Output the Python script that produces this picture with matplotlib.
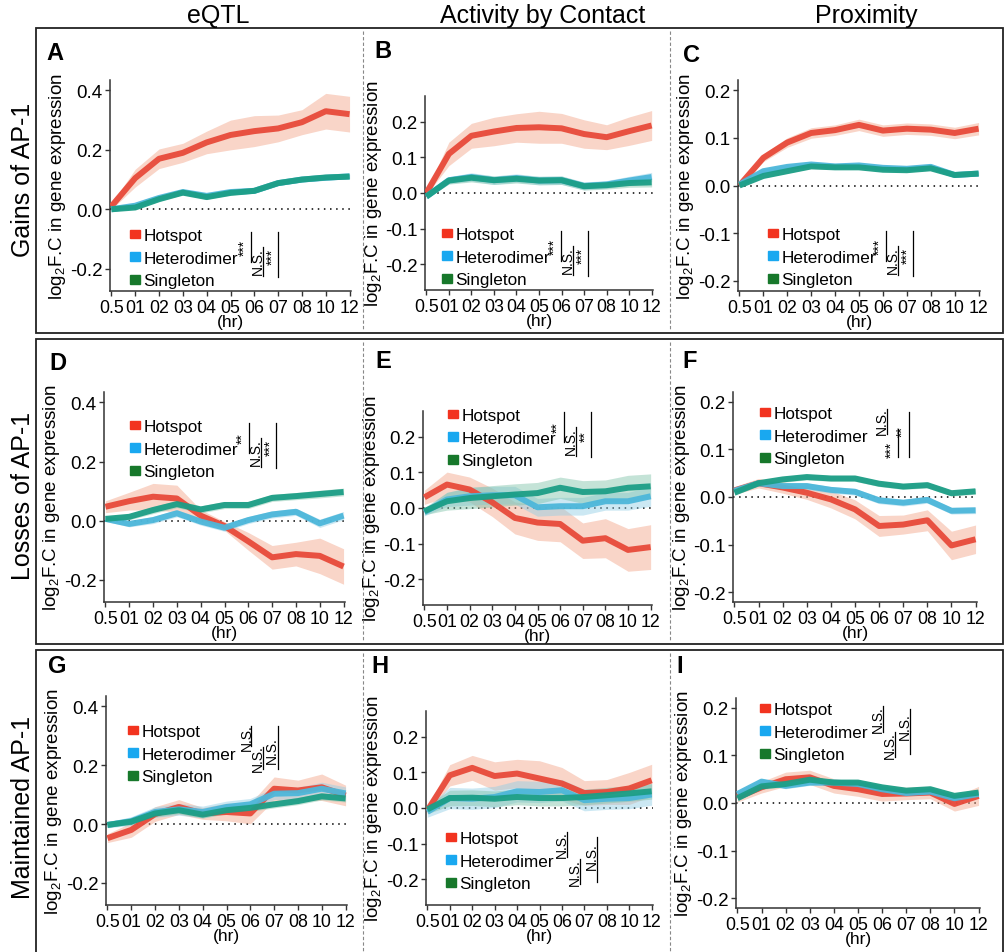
import numpy as np
import matplotlib
matplotlib.use("Agg")
import matplotlib.pyplot as plt
from matplotlib.patches import Patch, Rectangle
from matplotlib.lines import Line2D

plt.rcParams['font.family'] = ['Liberation Sans', 'DejaVu Sans']
plt.rcParams['mathtext.fontset'] = 'custom'
plt.rcParams['mathtext.rm'] = 'Liberation Sans'

W, H = 1006, 953

hours = ['0.5', '01', '02', '03', '04', '05', '06', '07', '08', '10', '12']
groups = ['Hotspot', 'Heterodimer', 'Singleton']
col_titles = ['eQTL', 'Activity by Contact', 'Proximity']
row_titles = ['Gains of AP-1', 'Losses of AP-1', 'Maintained AP-1']

# --- A: gains / eQTL
hot_A = [0.01, 0.105, 0.17, 0.19, 0.225, 0.25, 0.263, 0.272, 0.293, 0.33, 0.32]
hot_A_se = [0.01, 0.03, 0.033, 0.032, 0.038, 0.05, 0.052, 0.045, 0.042, 0.06, 0.06]
het_A = [0.0, 0.012, 0.038, 0.058, 0.045, 0.058, 0.062, 0.088, 0.1, 0.106, 0.111]
het_A_se = [0.005, 0.007, 0.008, 0.008, 0.008, 0.008, 0.008, 0.008, 0.008, 0.008, 0.008]
sin_A = [0.0, 0.006, 0.034, 0.056, 0.041, 0.055, 0.062, 0.088, 0.1, 0.107, 0.11]
sin_A_se = [0.005, 0.006, 0.007, 0.007, 0.007, 0.007, 0.007, 0.007, 0.007, 0.007, 0.007]
# --- B: gains / ABC
hot_B = [0.0, 0.11, 0.161, 0.173, 0.183, 0.185, 0.182, 0.166, 0.157, 0.174, 0.19]
hot_B_se = [0.005, 0.033, 0.035, 0.04, 0.04, 0.045, 0.042, 0.04, 0.035, 0.04, 0.042]
het_B = [-0.01, 0.036, 0.045, 0.036, 0.042, 0.035, 0.036, 0.02, 0.024, 0.035, 0.045]
het_B_se = [0.006, 0.01, 0.012, 0.012, 0.012, 0.012, 0.012, 0.011, 0.011, 0.012, 0.013]
sin_B = [-0.01, 0.035, 0.043, 0.036, 0.04, 0.035, 0.036, 0.019, 0.022, 0.028, 0.03]
sin_B_se = [0.006, 0.01, 0.012, 0.012, 0.012, 0.012, 0.012, 0.011, 0.011, 0.012, 0.013]
# --- C: gains / proximity
hot_C = [0.0, 0.058, 0.09, 0.11, 0.116, 0.127, 0.115, 0.119, 0.117, 0.11, 0.119]
hot_C_se = [0.004, 0.008, 0.01, 0.011, 0.011, 0.012, 0.012, 0.012, 0.012, 0.012, 0.013]
het_C = [0.002, 0.03, 0.039, 0.044, 0.04, 0.042, 0.037, 0.035, 0.039, 0.022, 0.025]
het_C_se = [0.003, 0.005, 0.005, 0.005, 0.005, 0.005, 0.005, 0.005, 0.005, 0.005, 0.005]
sin_C = [0.0, 0.02, 0.03, 0.04, 0.038, 0.038, 0.033, 0.032, 0.036, 0.022, 0.025]
sin_C_se = [0.003, 0.004, 0.004, 0.004, 0.004, 0.004, 0.004, 0.004, 0.004, 0.004, 0.004]
# --- D: losses / eQTL
hot_D = [0.047, 0.066, 0.081, 0.075, 0.017, -0.018, -0.07, -0.124, -0.113, -0.119, -0.155]
hot_D_se = [0.02, 0.03, 0.045, 0.045, 0.02, 0.015, 0.03, 0.04, 0.04, 0.06, 0.06]
het_D = [0.006, -0.011, 0.002, 0.025, -0.003, -0.024, 0.002, 0.021, 0.03, -0.009, 0.017]
het_D_se = [0.008, 0.01, 0.012, 0.012, 0.012, 0.012, 0.012, 0.012, 0.012, 0.014, 0.014]
sin_D = [0.006, 0.013, 0.036, 0.056, 0.038, 0.053, 0.053, 0.077, 0.083, 0.09, 0.097]
sin_D_se = [0.008, 0.01, 0.012, 0.012, 0.012, 0.012, 0.012, 0.012, 0.012, 0.013, 0.013]
# --- E: losses / ABC
hot_E = [0.03, 0.066, 0.052, 0.016, -0.028, -0.041, -0.045, -0.092, -0.085, -0.118, -0.11]
hot_E_se = [0.02, 0.035, 0.035, 0.04, 0.045, 0.05, 0.05, 0.05, 0.055, 0.06, 0.063]
het_E = [-0.012, 0.024, 0.033, 0.036, 0.036, 0.002, 0.005, 0.005, 0.019, 0.019, 0.033]
het_E_se = [0.01, 0.02, 0.025, 0.025, 0.025, 0.025, 0.025, 0.025, 0.025, 0.025, 0.028]
sin_E = [-0.009, 0.019, 0.028, 0.033, 0.038, 0.042, 0.057, 0.045, 0.047, 0.057, 0.061]
sin_E_se = [0.01, 0.025, 0.03, 0.03, 0.03, 0.03, 0.03, 0.032, 0.032, 0.035, 0.035]
# --- F: losses / proximity
hot_F = [0.014, 0.029, 0.02, 0.009, -0.005, -0.026, -0.061, -0.058, -0.049, -0.102, -0.089]
hot_F_se = [0.008, 0.01, 0.012, 0.014, 0.018, 0.02, 0.022, 0.02, 0.022, 0.03, 0.03]
het_F = [0.013, 0.029, 0.023, 0.023, 0.015, 0.011, -0.007, -0.012, -0.006, -0.029, -0.028]
het_F_se = [0.005, 0.006, 0.007, 0.007, 0.007, 0.007, 0.007, 0.007, 0.007, 0.007, 0.007]
sin_F = [0.009, 0.029, 0.037, 0.042, 0.039, 0.039, 0.028, 0.022, 0.025, 0.008, 0.012]
sin_F_se = [0.005, 0.006, 0.006, 0.006, 0.006, 0.006, 0.006, 0.006, 0.006, 0.006, 0.006]
# --- G: maintained / eQTL
hot_G = [-0.048, -0.02, 0.034, 0.058, 0.036, 0.041, 0.036, 0.12, 0.114, 0.125, 0.097]
hot_G_se = [0.015, 0.025, 0.025, 0.025, 0.02, 0.03, 0.035, 0.04, 0.035, 0.045, 0.035]
het_G = [-0.003, 0.01, 0.041, 0.05, 0.041, 0.058, 0.067, 0.103, 0.105, 0.12, 0.104]
het_G_se = [0.01, 0.015, 0.018, 0.02, 0.02, 0.02, 0.02, 0.02, 0.02, 0.022, 0.022]
sin_G = [-0.003, 0.008, 0.036, 0.047, 0.032, 0.047, 0.055, 0.067, 0.078, 0.094, 0.087]
sin_G_se = [0.008, 0.01, 0.012, 0.012, 0.012, 0.012, 0.012, 0.012, 0.012, 0.012, 0.012]
# --- H: maintained / ABC
hot_H = [-0.007, 0.092, 0.113, 0.09, 0.097, 0.083, 0.069, 0.042, 0.045, 0.055, 0.078]
hot_H_se = [0.01, 0.03, 0.035, 0.04, 0.04, 0.05, 0.045, 0.035, 0.035, 0.045, 0.045]
het_H = [-0.011, 0.028, 0.026, 0.031, 0.047, 0.045, 0.05, 0.022, 0.026, 0.028, 0.038]
het_H_se = [0.015, 0.03, 0.03, 0.03, 0.03, 0.03, 0.03, 0.03, 0.03, 0.03, 0.03]
sin_H = [-0.004, 0.028, 0.029, 0.026, 0.031, 0.028, 0.028, 0.031, 0.036, 0.041, 0.047]
sin_H_se = [0.012, 0.022, 0.022, 0.022, 0.022, 0.022, 0.022, 0.022, 0.022, 0.022, 0.022]
# --- I: maintained / proximity
hot_I = [0.012, 0.033, 0.05, 0.054, 0.036, 0.029, 0.019, 0.02, 0.022, -0.002, 0.015]
hot_I_se = [0.01, 0.012, 0.015, 0.015, 0.015, 0.015, 0.015, 0.013, 0.013, 0.015, 0.02]
het_I = [0.019, 0.045, 0.036, 0.043, 0.043, 0.04, 0.029, 0.021, 0.024, 0.01, 0.019]
het_I_se = [0.005, 0.006, 0.006, 0.006, 0.006, 0.006, 0.006, 0.006, 0.006, 0.006, 0.006]
sin_I = [0.01, 0.035, 0.04, 0.049, 0.043, 0.043, 0.033, 0.026, 0.029, 0.015, 0.022]
sin_I_se = [0.005, 0.006, 0.006, 0.006, 0.006, 0.006, 0.006, 0.006, 0.006, 0.006, 0.006]

# significance labels (hot vs het, het vs sin, hot vs sin)
sig_A = ['***', 'N.S.', '***']
sig_B = ['***', 'N.S.', '***']
sig_C = ['***', 'N.S.', '***']
sig_D = ['**', 'N.S.', '***']
sig_E = ['**', 'N.S.', '**']
sig_F = ['N.S.', '***', '**']
sig_G = ['N.S.', 'N.S.', 'N.S.']
sig_H = ['N.S.', 'N.S.', 'N.S.']
sig_I = ['N.S.', 'N.S.', 'N.S.']

line_cols = ['#E84A3A', '#4DB7DA', '#1C9E86']
band_cols = ['#F3A285', '#8ECDE6', '#7DC2A8']
key_cols = ['#F2331F', '#19A8F0', '#17782B']


def fx(x):
    return x / W


def fy(y):
    return 1 - y / H


fig = plt.figure(figsize=(W / 100, H / 100), dpi=100)

# row frames and column separators
for top, bot in [(29, 334), (340, 645), (651, 960)]:
    fig.add_artist(Rectangle((fx(36), fy(bot)), fx(1003) - fx(36), fy(top) - fy(bot),
                             transform=fig.transFigure, fill=False, ec='#222222', lw=1.3))
    for xs in [363, 670]:
        fig.add_artist(Line2D([fx(xs), fx(xs)], [fy(top + 3), fy(bot - 3)], transform=fig.transFigure,
                              color='#888888', lw=0.8, ls=(0, (3, 2))))

for t, xc in zip(col_titles, [218, 543, 866]):
    fig.text(fx(xc), fy(16), t, fontsize=18, ha='center', va='center')
for t, yc in zip(row_titles, [180, 496, 807]):
    fig.text(fx(23), fy(yc), t, fontsize=18, rotation=90, ha='center', va='center')

# bracket layout: (dx_text, dy_text, dx_line, dy_line0, dy_line1) per comparison
tpl_std = [(0, 10, 6, -5, 25), (13, 24, 18, 10, 39), (28, 19, 33, -5, 40)]
tpl_F = [(0, 6, 5, -6, 19), (10, 34, 16, 14, 42), (21, 16, 27, -3, 42)]
tpl_G = [(0, 4, 4, -7, 13), (11, 25, 16, 14, 36), (25, 17, 31, -7, 36)]
tpl_H = [(0, 4, 5, -8, 17), (13, 32, 18, 19, 44), (30, 16, 35, -3, 42)]
tpl_I = [(0, 8, 5, -5, 21), (12, 34, 17, 21, 46), (27, 15, 32, -2, 43)]

big = ([-0.275, 0.435], [-0.2, 0.0, 0.2, 0.4], ['-0.2', '0.0', '0.2', '0.4'])
mid = ([-0.273, 0.273], [-0.2, -0.1, 0.0, 0.1, 0.2], ['-0.2', '-0.1', '0.0', '0.1', '0.2'])
sml = ([-0.221, 0.221], [-0.2, -0.1, 0.0, 0.1, 0.2], ['-0.2', '-0.1', '0.0', '0.1', '0.2'])

panels = [
    # letter, (left, right, top, bottom) px, y setup, series, letter pos, legend (key x, row1 y), sig anchor, sig labels, template
    ('A', (110, 351, 81, 292), big, [(hot_A, hot_A_se), (het_A, het_A_se), (sin_A, sin_A_se)], (55, 53), (130, 238), (245, 238), sig_A, tpl_std),
    ('B', (425, 653, 97, 291), mid, [(hot_B, hot_B_se), (het_B, het_B_se), (sin_B, sin_B_se)], (383, 52), (442, 237), (555, 237), sig_B, tpl_std),
    ('C', (738, 980, 81, 292), sml, [(hot_C, hot_C_se), (het_C, het_C_se), (sin_C, sin_C_se)], (692, 55), (768, 237), (880, 237), sig_C, tpl_std),
    ('D', (104, 345, 393, 603), big, [(hot_D, hot_D_se), (het_D, het_D_se), (sin_D, sin_D_se)], (58, 363), (130, 429), (243, 429), sig_D, tpl_std),
    ('E', (423, 652, 412, 606), mid, [(hot_E, hot_E_se), (het_E, het_E_se), (sin_E, sin_E_se)], (383, 362), (448, 418), (558, 418), sig_E, tpl_std),
    ('F', (733, 977, 393, 603), sml, [(hot_F, hot_F_se), (het_F, het_F_se), (sin_F, sin_F_se)], (690, 362), (760, 416), (882, 416), sig_F, tpl_F),
    ('G', (106, 347, 697, 906), big, [(hot_G, hot_G_se), (het_G, het_G_se), (sin_G, sin_G_se)], (57, 667), (128, 734), (247, 734), sig_G, tpl_G),
    ('H', (426, 653, 712, 906), mid, [(hot_H, hot_H_se), (het_H, het_H_se), (sin_H, sin_H_se)], (380, 667), (446, 841), (562, 841), sig_H, tpl_H),
    ('I', (736, 980, 699, 909), sml, [(hot_I, hot_I_se), (het_I, het_I_se), (sin_I, sin_I_se)], (680, 667), (760, 712), (878, 712), sig_I, tpl_I),
]

x = np.arange(len(hours))
for letter, (l, r, t, b), (ylim, yt, ytl), series, lpos, leg, sanc, sigs, tpl in panels:
    ax = fig.add_axes([fx(l), fy(b), fx(r) - fx(l), fy(t) - fy(b)])
    for k, (m, se) in enumerate(series):
        m = np.array(m)
        se = np.array(se)
        ax.fill_between(x, m - se, m + se, color=band_cols[k], alpha=0.45, lw=0, zorder=2 + k)
        ax.plot(x, m, color=line_cols[k], lw=4.3, alpha=0.95, zorder=5 + k, solid_capstyle='butt')
    ax.axhline(0, color='black', lw=1.1, ls=(0, (1, 3)), zorder=1)
    ax.set_xlim(-0.06, 10.06)
    ax.set_ylim(*ylim)
    ax.set_xticks(x)
    ax.set_xticklabels(hours)
    ax.set_yticks(yt)
    ax.set_yticklabels(ytl)
    for s in ['top', 'right']:
        ax.spines[s].set_visible(False)
    for s in ['left', 'bottom']:
        ax.spines[s].set_color('#333333')
        ax.spines[s].set_linewidth(1.1)
    ax.tick_params(axis='x', labelsize=12.8, length=3.5, width=1, color='#333333', pad=2)
    ax.tick_params(axis='y', labelsize=13.5, length=3.5, width=1, color='#333333', pad=2)
    ax.set_xlabel('(hr)', fontsize=12.5, labelpad=-1)
    ax.set_ylabel(r'log$_2$F.C in gene expression', fontsize=13.5, va='center')
    ax.yaxis.set_label_coords(-52 / (r - l), 0.5)

    fig.text(fx(lpos[0]), fy(lpos[1]), letter, fontsize=17, fontweight='bold', ha='center', va='center')

    handles = [Patch(color=c) for c in key_cols]
    ax.legend(handles, groups, loc='upper left', bbox_to_anchor=(fx(leg[0]), fy(leg[1] - 9)),
              bbox_transform=fig.transFigure, frameon=False, fontsize=12.3, borderpad=0,
              borderaxespad=0, handlelength=0.6, handleheight=0.4, handletextpad=0.2,
              labelspacing=0.45)

    for lab, (dxt, dyt, dxl, dy0, dy1) in zip(sigs, tpl):
        fig.text(fx(sanc[0] + dxt), fy(sanc[1] + dyt), lab, fontsize=10, rotation=90,
                 ha='center', va='center')
        fig.add_artist(Line2D([fx(sanc[0] + dxl)] * 2, [fy(sanc[1] + dy0), fy(sanc[1] + dy1)],
                              transform=fig.transFigure, color='black', lw=0.9))

fig.savefig('out.png', dpi=100)
